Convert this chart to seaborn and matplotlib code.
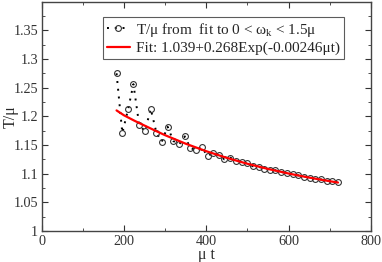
import matplotlib
matplotlib.use("Agg")
import matplotlib.pyplot as plt
import seaborn as sns
import pandas as pd
import numpy as np
from matplotlib.ticker import MultipleLocator
from matplotlib.legend_handler import HandlerLine2D

# data
t_data = [182, 196, 210, 223, 237, 251, 265, 279, 292, 306, 320, 334, 348, 361, 375, 389,
          403, 417, 430, 444, 458, 472, 486, 499, 513, 527, 541, 555, 568, 582, 596, 610,
          624, 637, 651, 665, 679, 693, 706, 720]
T_data = [1.275, 1.171, 1.212, 1.256, 1.185, 1.174, 1.213, 1.171, 1.156, 1.182, 1.157, 1.151,
          1.165, 1.145, 1.141, 1.146, 1.131, 1.136, 1.133, 1.125, 1.128, 1.123, 1.120, 1.119,
          1.113, 1.112, 1.109, 1.107, 1.106, 1.103, 1.101, 1.099, 1.097, 1.095, 1.093, 1.091,
          1.090, 1.088, 1.087, 1.085]
t_fit = [182, 200, 225, 250, 275, 300, 350, 400, 450, 500, 550, 600, 650, 700, 720]
T_fit = [1.2103, 1.2018, 1.1925, 1.1839, 1.1754, 1.1671, 1.1523, 1.1392, 1.1276, 1.1173,
         1.1083, 1.1003, 1.0932, 1.0869, 1.0846]
x_ticks = [0, 200, 400, 600, 800]
y_ticks = [1, 1.05, 1.1, 1.15, 1.2, 1.25, 1.3, 1.35]
y_ticklabels = ["1", "1.05", "1.1", "1.15", "1.2", "1.25", "1.3", "1.35"]

sns.set_style("ticks")
plt.rcParams['font.family'] = ['Liberation Serif', 'DejaVu Serif']
plt.rcParams['mathtext.fontset'] = 'custom'
plt.rcParams['mathtext.rm'] = 'Liberation Serif'
plt.rcParams['mathtext.it'] = 'Liberation Serif'


class RightMarker(HandlerLine2D):
    def get_xdata(self, legend, xdescent, ydescent, width, height, fontsize):
        xdata = np.array([-xdescent, -xdescent + width])
        xdata_marker = np.array([-xdescent + width - 1.5])
        return xdata, xdata_marker


fig = plt.figure(figsize=(3.82, 2.62), dpi=100)
ax = fig.add_axes([0.109, 0.118, 0.862, 0.876])

df = pd.DataFrame({"t": t_data, "T": T_data})
dff = pd.DataFrame({"t": t_fit, "T": T_fit})

sns.lineplot(data=df, x="t", y="T", ax=ax, color="black", linestyle=(0, (1, 3)),
             linewidth=1.4, marker="o", markersize=4.2, markerfacecolor="none",
             markeredgecolor="#333333", markeredgewidth=0.8,
             label="T/\u03bc from  fit to 0 < \u03c9$_\\mathrm{k}$ < 1.5\u03bc")
sns.lineplot(data=dff, x="t", y="T", ax=ax, color="red", linewidth=1.6,
             label="Fit: 1.039+0.268Exp(-0.00246\u03bct)")

ax.set_xlim(0, 800)
ax.set_ylim(1, 1.4)
ax.set_xticks(x_ticks)
ax.set_yticks(y_ticks)
ax.set_yticklabels(y_ticklabels)
ax.xaxis.set_minor_locator(MultipleLocator(100))
ax.yaxis.set_minor_locator(MultipleLocator(0.025))
ax.tick_params(which='both', direction='in', top=True, right=True, labelsize=10.2,
               colors='#333333', pad=2.5)
ax.tick_params(which='major', length=4)
ax.tick_params(which='minor', length=2)
for s in ax.spines.values():
    s.set_linewidth(1.0)
    s.set_color('#444444')
ax.set_xlabel("\u03bc t", fontsize=11.5)
ax.set_ylabel("T/\u03bc", fontsize=11.5)
ax.yaxis.set_label_coords(-0.07, 0.5)
ax.xaxis.set_label_coords(0.5, -0.068)

handles, labels = ax.get_legend_handles_labels()
leg = ax.legend(handles, labels, loc='upper left', bbox_to_anchor=(0.186, 0.934),
                fontsize=11, frameon=True, fancybox=False, edgecolor='#333333',
                handlelength=1.5, handletextpad=0.45, borderpad=0.25, labelspacing=0.2,
                borderaxespad=0, handler_map={handles[0]: RightMarker()})
leg.get_frame().set_linewidth(0.8)

fig.savefig("out.png", dpi=100)
